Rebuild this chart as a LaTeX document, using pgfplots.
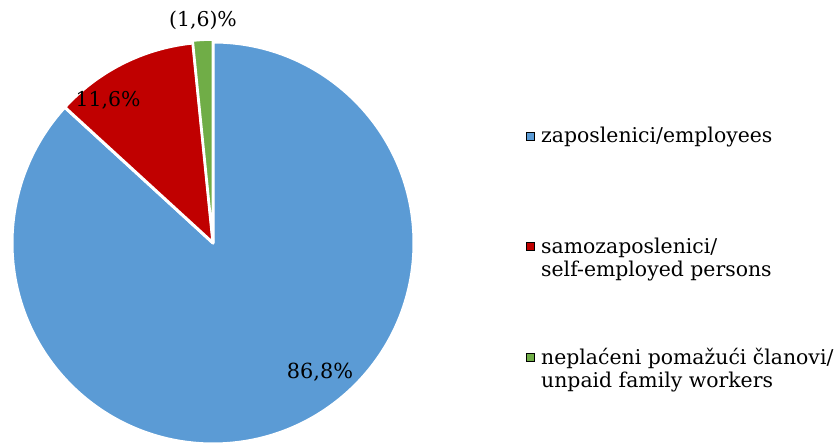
\documentclass[border=0pt]{standalone}
\usepackage{pgfplots}
\pgfplotsset{compat=1.18}
\usetikzlibrary{calc}
\usepackage{fontspec}
\setmainfont{DejaVu Serif}
\definecolor{cblue}{HTML}{5B9BD5}
\definecolor{cred}{HTML}{C00000}
\definecolor{cgreen}{HTML}{70AD47}
% shares (%)
\def\vA{86.8}
\def\vB{11.6}
\def\vC{1.6}
\newcommand{\twoline}[2]{\raisebox{0pt}[\height][0pt]{\begin{tabular}[t]{@{}l@{}}#1\\#2\end{tabular}}}
\begin{document}
\begin{tikzpicture}
\pgfmathsetmacro\aA{90-3.6*\vA}
\pgfmathsetmacro\aB{\aA-3.6*\vB}
\pgfmathsetmacro\aC{\aB-3.6*\vC}
\pgfmathsetmacro\mC{(\aB+\aC)/2}
\begin{axis}[scale only axis, width=418.5pt, height=221.5pt,
  xmin=0, xmax=837, ymin=0, ymax=443, hide axis, clip=false,
  legend style={at={(axis cs:520,320.5)}, anchor=north west, draw=none, fill=none,
    font=\fontsize{10.2}{11.5}\selectfont, row sep=45.8pt,
    nodes={inner xsep=3pt, inner ysep=0pt}},
  legend cell align=left,
  legend image code/.code={\fill[#1] (0pt,-2pt) rectangle (4pt,2pt);}]
\addlegendimage{fill=cblue}
\addlegendentry{\raisebox{0pt}[\height][0pt]{zaposlenici/employees}}
\addlegendimage{fill=cred}
\addlegendentry{\twoline{samozaposlenici/}{self-employed persons}}
\addlegendimage{fill=cgreen}
\addlegendentry{\twoline{neplaćeni pomažući članovi/}{unpaid family workers}}
\fill[cblue, draw=white, line width=1.5pt, line join=round] (axis cs:213,200) -- ++(90:100.5pt) arc[start angle=90, end angle=\aA, radius=100.5pt] -- cycle;
\fill[cred, draw=white, line width=1.5pt, line join=round] (axis cs:213,200) -- ++(\aA:100.5pt) arc[start angle=\aA, end angle=\aB, radius=100.5pt] -- cycle;
\fill[cgreen, draw=white, line width=1.2pt, line join=round] ($(axis cs:213,200)+(\mC:1.2pt)$) -- ++(\aB:100.5pt) arc[start angle=\aB, end angle=\aC, radius=100.5pt] -- cycle;
\node[font=\fontsize{10.4}{12}\selectfont] at (axis cs:320,71) {86,8\%};
\node[font=\fontsize{10.2}{12}\selectfont] at (axis cs:108,343) {11,6\%};
\node[font=\fontsize{10.2}{12}\selectfont] at (axis cs:203,423) {(1,6)\%};
\end{axis}
\pgfresetboundingbox
\useasboundingbox (0,0) rectangle (418.5pt,221.5pt);
\end{tikzpicture}
\end{document}
